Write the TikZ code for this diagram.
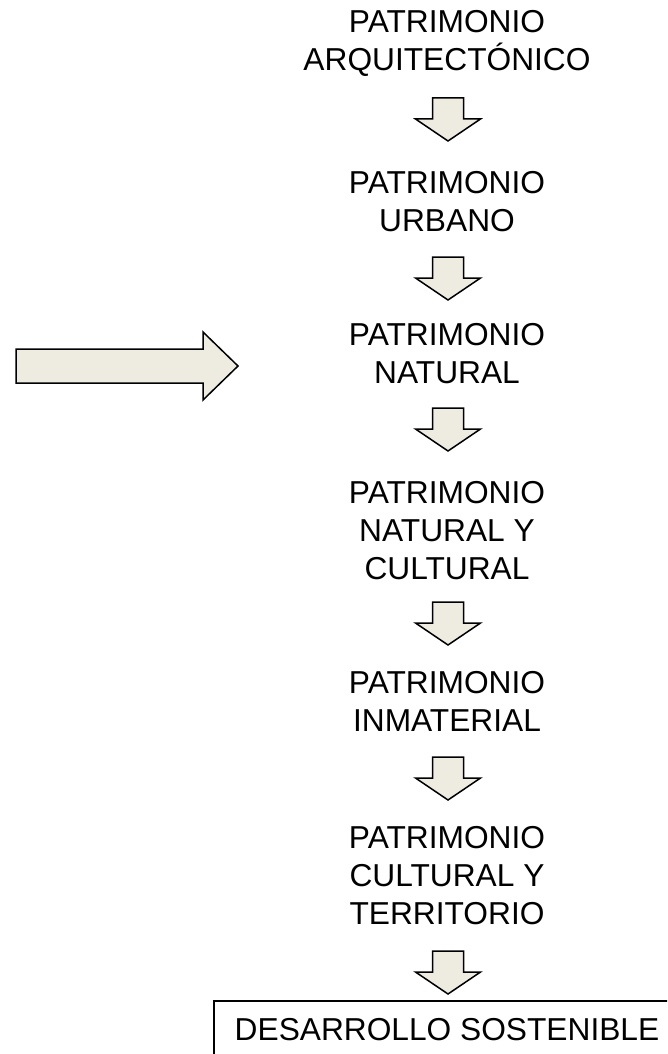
\documentclass[tikz,border=0pt]{standalone}
\usepackage{fontspec}
\setmainfont{Liberation Sans}
\definecolor{arrowfill}{HTML}{EEECE1}
\tikzset{
  lbl/.style={align=center, inner sep=0pt, anchor=base, font=\fontsize{31.7}{38}\selectfont},
  blockarrow/.style={draw=black, fill=arrowfill, line width=1.5pt, line join=miter},
  framebox/.style={draw=black, line width=1.5pt, inner sep=0pt, minimum width=466pt, minimum height=58pt, anchor=north, font=\fontsize{31.7}{38}\selectfont}
}
\newcommand{\downarrowshape}[1]{%
  \draw[blockarrow] (#1) ++(-15.5,0) -- ++(0,21) -- ++(-17,0) -- ++(32.5,22) -- ++(32.5,-22) -- ++(-17,0) -- ++(0,-21) -- cycle;}
\begin{document}
\begin{tikzpicture}[x=1pt,y=-1pt]
\clip (0,0) rectangle (667,1054);
\fill[white] (0,0) rectangle (667,1054);

% base anchor = baseline of the last line
\node[lbl] (t1) at (447,71) {PATRIMONIO\\ARQUITECTÓNICO};
\node[lbl] (t2) at (447,231) {PATRIMONIO\\URBANO};
\node[lbl] (t3) at (447,383) {PATRIMONIO\\NATURAL};
\node[lbl] (t4) at (447,579) {PATRIMONIO\\NATURAL Y\\CULTURAL};
\node[lbl] (t5) at (447,731) {PATRIMONIO\\INMATERIAL};
\node[lbl] (t6) at (447,924) {PATRIMONIO\\CULTURAL Y\\TERRITORIO};
\node[framebox] (box) at (447,1000) {DESARROLLO SOSTENIBLE};

\coordinate (a1) at (448,98);
\coordinate (a2) at (448,257);
\coordinate (a3) at (448,408);
\coordinate (a4) at (448,602);
\coordinate (a5) at (448,757);
\coordinate (a6) at (448,951);
\downarrowshape{a1}
\downarrowshape{a2}
\downarrowshape{a3}
\downarrowshape{a4}
\downarrowshape{a5}
\downarrowshape{a6}

\coordinate (bigtail) at (16,349);
\draw[blockarrow] (bigtail) -- ++(187,0) -- ++(0,-17) -- (238,366) -- (203,400) -- (203,383) -- (16,383) -- cycle;
\end{tikzpicture}
\end{document}
